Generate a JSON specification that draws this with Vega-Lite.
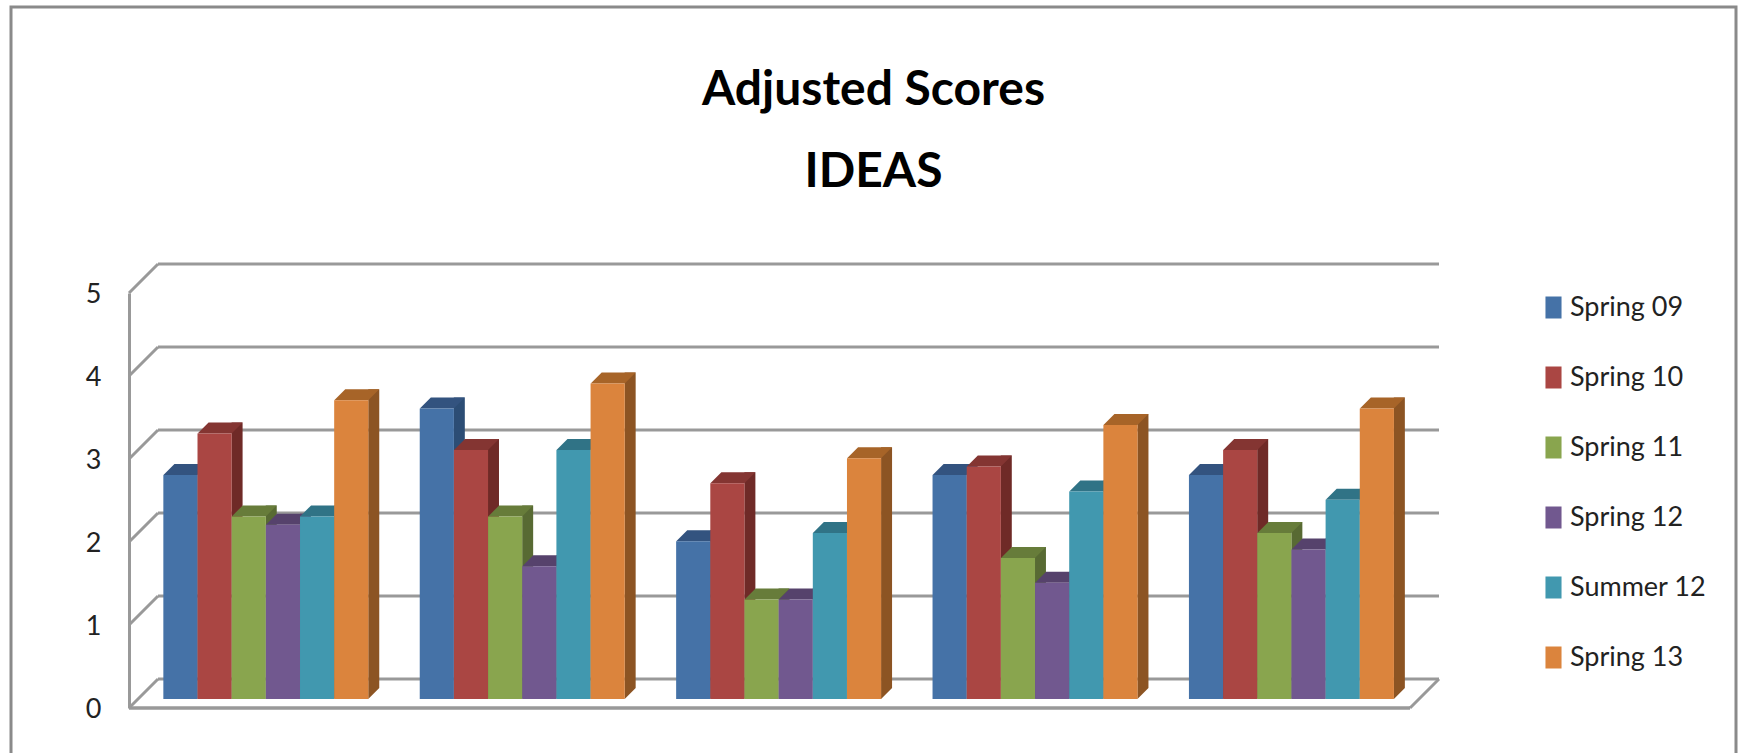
{
"$schema":"https://vega.github.io/schema/vega-lite/v6.json",
"width":1725,"height":752,"autosize":{"type":"none"},
"padding":{"left":11,"top":7,"right":5,"bottom":0},
"background":"#ffffff",
"config":{"view":{"stroke":"#8a8a8a","strokeWidth":3},"font":"Lato"},
"title":{"text":["Adjusted Scores","IDEAS"],"anchor":"middle","frame":"group","fontSize":48,"fontWeight":"bold","font":"Lato","color":"#000000","lineHeight":82,"offset":0,"baseline":"alphabetic","dy":228},
"datasets":{
"scores":[
{"group":"Group 1","term":"Spring 09","score":2.7},{"group":"Group 1","term":"Spring 10","score":3.2},{"group":"Group 1","term":"Spring 11","score":2.2},{"group":"Group 1","term":"Spring 12","score":2.1},{"group":"Group 1","term":"Summer 12","score":2.2},{"group":"Group 1","term":"Spring 13","score":3.6},
{"group":"Group 2","term":"Spring 09","score":3.5},{"group":"Group 2","term":"Spring 10","score":3.0},{"group":"Group 2","term":"Spring 11","score":2.2},{"group":"Group 2","term":"Spring 12","score":1.6},{"group":"Group 2","term":"Summer 12","score":3.0},{"group":"Group 2","term":"Spring 13","score":3.8},
{"group":"Group 3","term":"Spring 09","score":1.9},{"group":"Group 3","term":"Spring 10","score":2.6},{"group":"Group 3","term":"Spring 11","score":1.2},{"group":"Group 3","term":"Spring 12","score":1.2},{"group":"Group 3","term":"Summer 12","score":2.0},{"group":"Group 3","term":"Spring 13","score":2.9},
{"group":"Group 4","term":"Spring 09","score":2.7},{"group":"Group 4","term":"Spring 10","score":2.8},{"group":"Group 4","term":"Spring 11","score":1.7},{"group":"Group 4","term":"Spring 12","score":1.4},{"group":"Group 4","term":"Summer 12","score":2.5},{"group":"Group 4","term":"Spring 13","score":3.3},
{"group":"Group 5","term":"Spring 09","score":2.7},{"group":"Group 5","term":"Spring 10","score":3.0},{"group":"Group 5","term":"Spring 11","score":2.0},{"group":"Group 5","term":"Spring 12","score":1.8},{"group":"Group 5","term":"Summer 12","score":2.4},{"group":"Group 5","term":"Spring 13","score":3.5}
],
"levels":[{"level":0},{"level":1},{"level":2},{"level":3},{"level":4},{"level":5}]
},
"resolve":{"scale":{"x":"independent","color":"independent","xOffset":"independent"}},
"layer":[
{"data":{"name":"levels"},
 "mark":{"type":"rule","color":"#999999","strokeWidth":3,"xOffset":29,"x2Offset":29,"yOffset":-29,"y2Offset":-29},
 "encoding":{"x":{"datum":0,"type":"quantitative","scale":{"domain":[0,1],"range":[118,1399]},"axis":null},"x2":{"datum":1},
 "y":{"field":"level","type":"quantitative","scale":{"domain":[0,5],"range":[701,286]},"axis":{"title":null,"values":[0,1,2,3,4,5],"format":"d","offset":-118,"grid":false,"ticks":false,"labelFontSize":27,"labelColor":"#222222","labelPadding":28,"labelOffset":1,"domainColor":"#999999","domainWidth":3,"labelFont":"Lato"}}}},
{"data":{"name":"levels"},
 "mark":{"type":"point","shape":"M0,0L29,-29","filled":false,"stroke":"#999999","strokeWidth":3,"size":4,"opacity":1},
 "encoding":{"x":{"datum":0,"type":"quantitative","scale":{"domain":[0,1],"range":[118,1399]},"axis":null},
 "y":{"field":"level","type":"quantitative"}}},
{"data":{"values":[{"level":0}]},
 "mark":{"type":"rule","color":"#999999","strokeWidth":3.5},
 "encoding":{"x":{"datum":0,"type":"quantitative","scale":{"domain":[0,1],"range":[118,1399]},"axis":null},"x2":{"datum":1},"y":{"field":"level","type":"quantitative"}}},
{"data":{"values":[{"level":0}]},
 "mark":{"type":"point","shape":"M0,0L29,-29","filled":false,"stroke":"#999999","strokeWidth":3,"size":4,"opacity":1},
 "encoding":{"x":{"datum":1,"type":"quantitative","scale":{"domain":[0,1],"range":[118,1399]},"axis":null},"y":{"field":"level","type":"quantitative"}}},
{"data":{"name":"scores"},
 "mark":{"type":"rule","strokeWidth":11,"strokeCap":"butt","yOffset":-20,"y2Offset":-20},
 "encoding":{"x":{"field":"group","type":"nominal","scale":{"range":[126.7,1408.7],"paddingInner":0.2,"paddingOuter":0.1},"axis":null},
 "xOffset":{"field":"term","type":"nominal","scale":{"type":"band","domain":["Spring 09","Spring 10","Spring 11","Spring 12","Summer 12","Spring 13"],"range":[22.5,227.5],"paddingInner":0,"paddingOuter":0}},
 "y":{"field":"score","type":"quantitative"},"y2":{"datum":0},
 "color":{"field":"term","type":"nominal","legend":null,"scale":{"domain":["Spring 09","Spring 10","Spring 11","Spring 12","Summer 12","Spring 13"],"range":["#2c4d75","#6f2a27","#586a33","#4b3a5f","#2a6474","#8c5423"]}}}},
{"data":{"name":"scores"},
 "mark":{"type":"point","shape":"M17,0L28,-11L17,-11Z","filled":true,"size":4,"opacity":1,"yOffset":-9},
 "encoding":{"x":{"field":"group","type":"nominal","scale":{"type":"band","range":[126.7,1408.7],"paddingInner":0.2,"paddingOuter":0.1},"axis":null},
 "xOffset":{"field":"term","type":"nominal","scale":{"type":"band","domain":["Spring 09","Spring 10","Spring 11","Spring 12","Summer 12","Spring 13"],"range":[0,205],"paddingInner":0,"paddingOuter":0}},
 "y":{"datum":0,"type":"quantitative"},
 "color":{"field":"term","type":"nominal","legend":null,"scale":{"domain":["Spring 09","Spring 10","Spring 11","Spring 12","Summer 12","Spring 13"],"range":["#2c4d75","#6f2a27","#586a33","#4b3a5f","#2a6474","#8c5423"]}}}},
{"data":{"name":"scores"},
 "mark":{"type":"point","shape":"M-17,0L17,0L28,-11L-6,-11Z","filled":true,"size":4,"opacity":1,"yOffset":-9},
 "encoding":{"x":{"field":"group","type":"nominal","scale":{"type":"band","range":[126.7,1408.7],"paddingInner":0.2,"paddingOuter":0.1},"axis":null},
 "xOffset":{"field":"term","type":"nominal","scale":{"type":"band","domain":["Spring 09","Spring 10","Spring 11","Spring 12","Summer 12","Spring 13"],"range":[0,205],"paddingInner":0,"paddingOuter":0}},
 "y":{"field":"score","type":"quantitative"},
 "color":{"field":"term","type":"nominal","legend":null,"scale":{"domain":["Spring 09","Spring 10","Spring 11","Spring 12","Summer 12","Spring 13"],"range":["#33537f","#843532","#677c3a","#56426c","#307386","#a76428"]}}}},
{"data":{"name":"scores"},
 "mark":{"type":"bar","yOffset":-9,"y2Offset":-9,"stroke":null},
 "encoding":{"x":{"field":"group","type":"nominal","scale":{"range":[126.7,1408.7],"paddingInner":0.2,"paddingOuter":0.1},"axis":null},
 "xOffset":{"field":"term","type":"nominal","scale":{"domain":["Spring 09","Spring 10","Spring 11","Spring 12","Summer 12","Spring 13"],"range":[0,205],"paddingInner":0,"paddingOuter":0}},
 "y":{"field":"score","type":"quantitative","stack":null},"y2":{"datum":0},
 "color":{"field":"term","type":"nominal","scale":{"domain":["Spring 09","Spring 10","Spring 11","Spring 12","Summer 12","Spring 13"],"range":["#4572a7","#aa4643","#89a54e","#71588f","#4198af","#db843d"]},
 "legend":{"orient":"none","legendX":1529,"legendY":287,"title":null,"padding":0,"symbolType":"M-0.73,-1H0.73V1H-0.73Z","symbolSize":484,"symbolStrokeWidth":0,"labelFontSize":27,"labelFont":"Lato","labelColor":"#222222","labelOffset":3,"rowPadding":42}}}}
]
}
